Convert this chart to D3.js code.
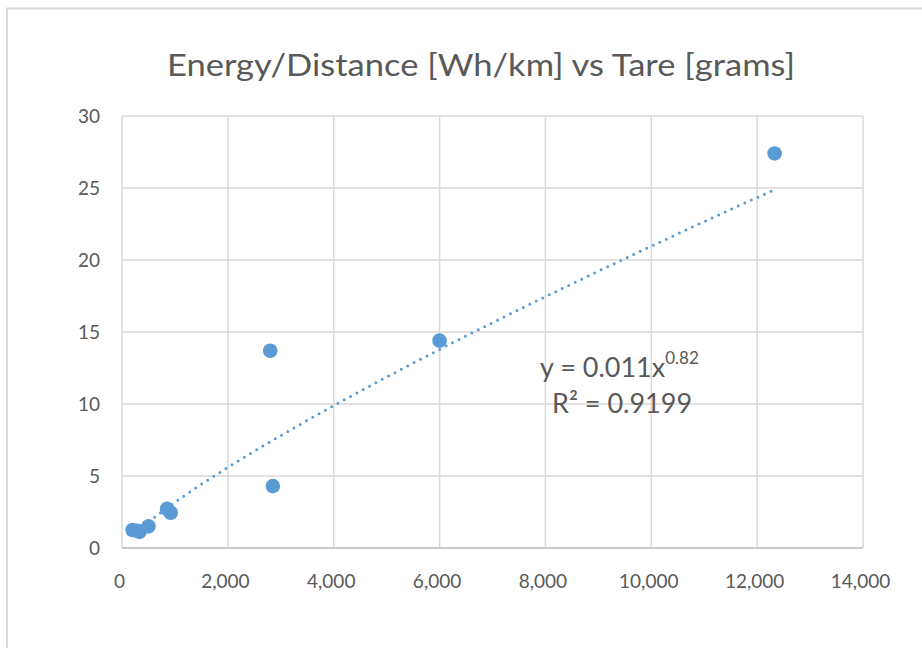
<!DOCTYPE html>
<html>
<head>
<meta charset="utf-8">
<script src="https://cdn.jsdelivr.net/npm/d3@7"></script>
<style>
html,body{margin:0;padding:0;background:#fff;}
svg{display:block;}
</style>
</head>
<body>
<svg id="chart" width="922" height="648"></svg>
<script>
// ---- data ----
const tareGrams = [200, 290, 330, 500, 850, 920, 2800, 2850, 6000, 12330];
const energyWhKm = [1.25, 1.2, 1.12, 1.5, 2.72, 2.45, 13.7, 4.3, 14.4, 27.4];
const xTicks = [0, 2000, 4000, 6000, 8000, 10000, 12000, 14000];
const yTicks = [0, 5, 10, 15, 20, 25, 30];
const trendCoefA = 0.011;
const trendExpB = 0.82;
const rSquared = "0.9199";
const titleText = "Energy/Distance [Wh/km] vs Tare [grams]";

const svg = d3.select("#chart");
const color = "#5B9BD5";
const textColor = "#595959";
const gridColor = "#D9D9D9";
const font = "Lato, 'Open Sans', sans-serif";

// outer chart border
svg.append("rect").attr("x", 7).attr("y", 8.5).attr("width", 940).attr("height", 700)
  .attr("fill", "#fff").attr("stroke", gridColor).attr("stroke-width", 2);

const plotLeft = 122, plotRight = 863, plotTop = 116, plotBottom = 548;
const x = d3.scaleLinear().domain([0, 14000]).range([plotLeft, plotRight]);
const y = d3.scaleLinear().domain([0, 30]).range([plotBottom, plotTop]);

// gridlines
const grid = svg.append("g");
grid.selectAll("line.h").data(yTicks).enter().append("line").attr("class", "h")
  .attr("x1", plotLeft).attr("x2", plotRight)
  .attr("y1", d => y(d)).attr("y2", d => y(d))
  .attr("stroke", gridColor).attr("stroke-width", 1.5);
grid.selectAll("line.v").data(xTicks).enter().append("line").attr("class", "v")
  .attr("y1", plotTop).attr("y2", plotBottom)
  .attr("x1", d => x(d)).attr("x2", d => x(d))
  .attr("stroke", gridColor).attr("stroke-width", 1.5);
// bottom axis line
svg.append("line").attr("x1", plotLeft).attr("x2", plotRight).attr("y1", plotBottom).attr("y2", plotBottom)
  .attr("stroke", "#BFBFBF").attr("stroke-width", 1.5);

// axes using d3 axis generators (labels only)
const fmt = d3.format(",");
const xAxis = svg.append("g").attr("transform", `translate(0,${plotBottom})`)
  .call(d3.axisBottom(x).tickValues(xTicks).tickFormat(fmt).tickSize(0).tickPadding(27));
const yAxis = svg.append("g").attr("transform", `translate(${plotLeft},0)`)
  .call(d3.axisLeft(y).tickValues(yTicks).tickSize(0).tickPadding(22));
[xAxis, yAxis].forEach(a => {
  a.select(".domain").remove();
  a.selectAll("text").attr("fill", textColor).style("font-family", font).style("font-size", "19px");
});
xAxis.selectAll("text").attr("dx", -3);

// trendline
const xMin = d3.min(tareGrams), xMax = d3.max(tareGrams);
const trendPts = d3.range(0, 201).map(i => {
  const xv = xMin + (xMax - xMin) * i / 200;
  return [xv, trendCoefA * Math.pow(xv, trendExpB)];
});
svg.append("path").datum(trendPts)
  .attr("d", d3.line().x(d => x(d[0])).y(d => y(d[1])))
  .attr("fill", "none").attr("stroke", color).attr("stroke-width", 3)
  .attr("stroke-linecap", "round").attr("stroke-dasharray", "0 7.2");

// points
svg.append("g").selectAll("circle").data(tareGrams).enter().append("circle")
  .attr("cx", d => x(d)).attr("cy", (d, i) => y(energyWhKm[i]))
  .attr("r", 7.3).attr("fill", color);

// title
svg.append("text").attr("x", 481).attr("y", 76).attr("text-anchor", "middle")
  .attr("fill", textColor).style("font-family", font).style("font-size", "30px")
  .attr("textLength", 628).attr("lengthAdjust", "spacingAndGlyphs")
  .text(titleText);

// equation
const eq = svg.append("text").attr("x", 540).attr("y", 377)
  .attr("fill", textColor).style("font-family", font).style("font-size", "27px");
eq.append("tspan").text("y = " + trendCoefA + "x");
eq.append("tspan").attr("dy", -13).style("font-size", "17px").text(String(trendExpB));
svg.append("text").attr("x", 552).attr("y", 413)
  .attr("fill", textColor).style("font-family", font).style("font-size", "27px")
  .text("R² = " + rSquared);
</script>
</body>
</html>
